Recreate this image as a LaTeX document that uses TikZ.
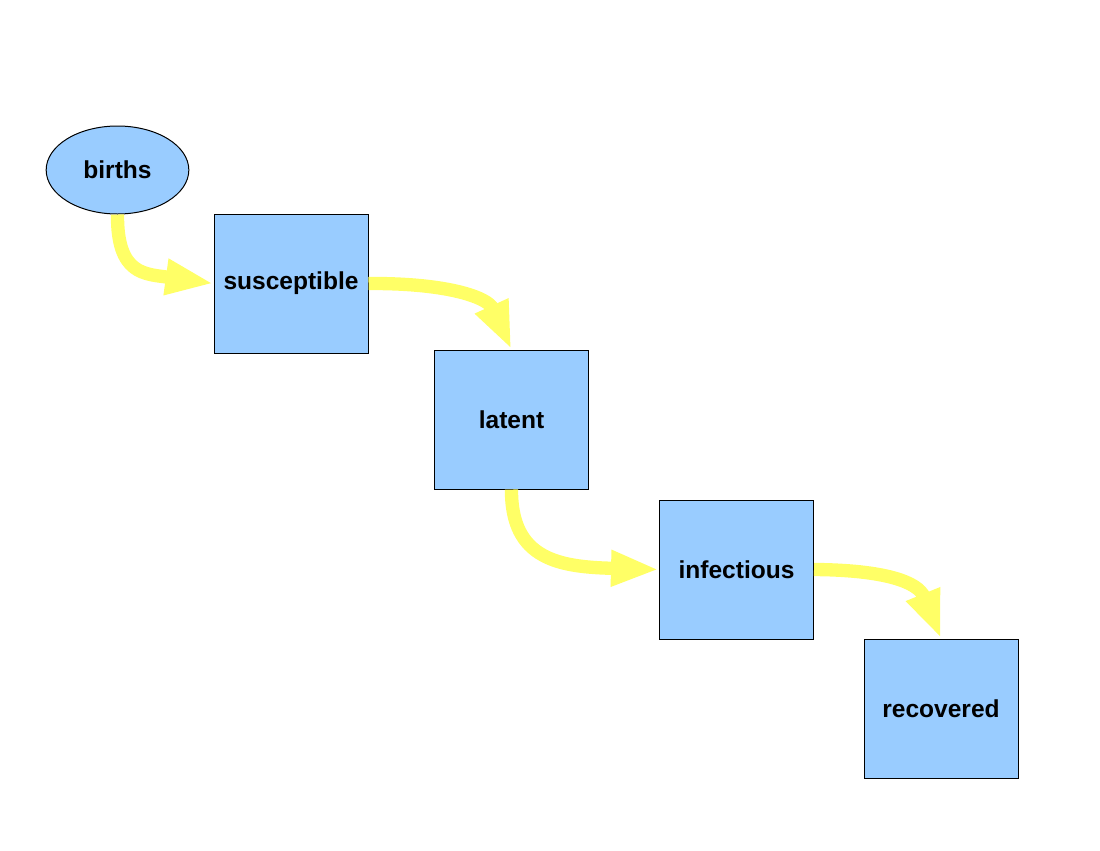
\documentclass[tikz,border=0pt]{standalone}
\usepackage{fontspec}
\setmainfont{Liberation Sans}
\usetikzlibrary{shapes.geometric,arrows.meta}

\definecolor{boxblue}{RGB}{153,204,255}
\definecolor{flowyellow}{RGB}{255,255,102}

\tikzset{
  compartment/.style={draw=black,line width=0.75pt,fill=boxblue,minimum width=115.5pt,minimum height=104.25pt,inner sep=0pt,font=\fontsize{18.4}{22}\selectfont\bfseries},
  source/.style={ellipse,draw=black,line width=0.75pt,fill=boxblue,minimum width=107pt,minimum height=66pt,inner sep=0pt,font=\fontsize{18.4}{22}\selectfont\bfseries},
  flow/.style={draw=flowyellow,line width=10pt,-{Triangle[length=36pt,width=25pt]},color=flowyellow}
}

\begin{document}
\begin{tikzpicture}[x=0.75pt,y=0.75pt,yscale=-1,xscale=1]
          \useasboundingbox (0,0) rectangle (1100,850);

          %Shape: Ellipse [births]
          \node [source] (births) at (117.5,170) {births};
          %Shape: Square [susceptible]
          \node [compartment] (susceptible) at (291,283.5) {susceptible};
          %Shape: Square [latent]
          \node [compartment] (latent) at (511.5,419.5) {latent};
          %Shape: Square [infectious]
          \node [compartment] (infectious) at (736.5,569.5) {infectious};
          %Shape: Square [recovered]
          \node [compartment] (recovered) at (941,708.5) {recovered};

          %Curve Lines
          \draw [flow] (births.south) .. controls (117,275) and (145,274) .. (susceptible.west);
          %Curve Lines
          \draw [flow] (susceptible.east) .. controls (450,283) and (488,298) .. (latent.north);
          %Curve Lines
          \draw [flow] (latent.south) .. controls (511,560) and (560,567) .. (infectious.west);
          %Curve Lines
          \draw [flow] (infectious.east) .. controls (885,570) and (918,582) .. (recovered.north);
\end{tikzpicture}
\end{document}
